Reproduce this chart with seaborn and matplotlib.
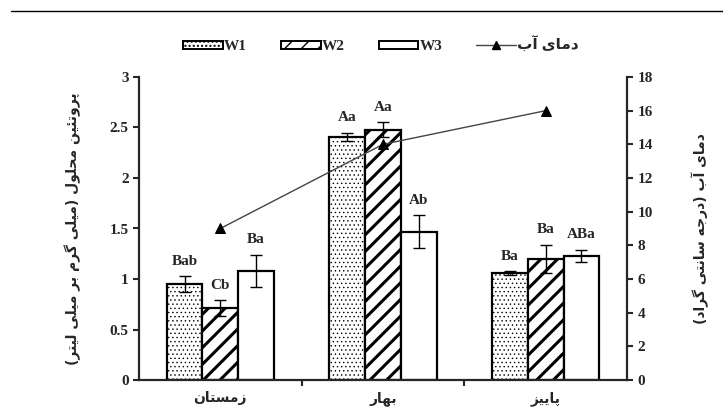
import numpy as np
import pandas as pd
import matplotlib
matplotlib.use("Agg")
import matplotlib.pyplot as plt
import seaborn as sns
from matplotlib.patches import Patch
from matplotlib.lines import Line2D

# ==========================================================
# Data
# ==========================================================
seasons = ["زمستان", "بهار", "پاییز"]
groups = ["W1", "W2", "W3"]
protein_w1 = [0.95, 2.41, 1.06]
protein_w2 = [0.71, 2.48, 1.20]
protein_w3 = [1.08, 1.47, 1.23]
err_w1 = [0.08, 0.04, 0.02]
err_w2 = [0.08, 0.07, 0.14]
err_w3 = [0.16, 0.16, 0.06]
letters_w1 = ["Bab", "Aa", "Ba"]
letters_w2 = ["Cb", "Aa", "Ba"]
letters_w3 = ["Ba", "Ab", "ABa"]
water_temp = [9, 14, 16]

ylabel_left = "پروتئین محلول (میلی گرم بر میلی لیتر)"
ylabel_right = "دمای آب (درجه سانتی گراد)"
temp_label = "دمای آب"

# ==========================================================
# Minimal Persian shaping (matplotlib has no bidi / joining)
# forms: isolated, final, initial, medial
# ==========================================================
FORMS = {
    "ا": ("\uFE8D", "\uFE8E", None, None),
    "آ": ("\uFE81", "\uFE82", None, None),
    "ب": ("\uFE8F", "\uFE90", "\uFE91", "\uFE92"),
    "پ": ("\uFB56", "\uFB57", "\uFB58", "\uFB59"),
    "ت": ("\uFE95", "\uFE96", "\uFE97", "\uFE98"),
    "ج": ("\uFE9D", "\uFE9E", "\uFE9F", "\uFEA0"),
    "ح": ("\uFEA1", "\uFEA2", "\uFEA3", "\uFEA4"),
    "د": ("\uFEA9", "\uFEAA", None, None),
    "ر": ("\uFEAD", "\uFEAE", None, None),
    "ز": ("\uFEAF", "\uFEB0", None, None),
    "س": ("\uFEB1", "\uFEB2", "\uFEB3", "\uFEB4"),
    "گ": ("\uFB92", "\uFB93", "\uFB94", "\uFB95"),
    "ل": ("\uFEDD", "\uFEDE", "\uFEDF", "\uFEE0"),
    "م": ("\uFEE1", "\uFEE2", "\uFEE3", "\uFEE4"),
    "ن": ("\uFEE5", "\uFEE6", "\uFEE7", "\uFEE8"),
    "ه": ("\uFEE9", "\uFEEA", "\uFEEB", "\uFEEC"),
    "و": ("\uFEED", "\uFEEE", None, None),
    "ی": ("\uFBFC", "\uFBFD", "\uFBFE", "\uFBFF"),
    "ئ": ("\uFE89", "\uFE8A", "\uFE8B", "\uFE8C"),
}


def fa(text):
    out = []
    for i, ch in enumerate(text):
        if ch not in FORMS:
            out.append(ch)
            continue
        iso, fin, ini, med = FORMS[ch]
        prev = text[i - 1] if i > 0 else ""
        nxt = text[i + 1] if i + 1 < len(text) else ""
        join_prev = prev in FORMS and FORMS[prev][2] is not None
        join_next = nxt in FORMS and ini is not None
        if join_prev and join_next:
            out.append(med)
        elif join_prev:
            out.append(fin)
        elif join_next:
            out.append(ini)
        else:
            out.append(iso)
    mirror = {"(": ")", ")": "("}
    return "".join(mirror.get(c, c) for c in reversed(out))


# ==========================================================
# Long-form table for seaborn
# ==========================================================
df = pd.DataFrame({
    "season": seasons * 3,
    "group": [g for g in groups for _ in seasons],
    "protein": protein_w1 + protein_w2 + protein_w3,
})
df["season_fa"] = df["season"].map(fa)
errs = [err_w1, err_w2, err_w3]
letters = [letters_w1, letters_w2, letters_w3]

sns.set_style("ticks")
plt.rcParams["font.family"] = ["Liberation Serif", "DejaVu Sans"]
plt.rcParams["font.weight"] = "bold"
plt.rcParams["axes.labelweight"] = "bold"

fig = plt.figure(figsize=(7.23, 4.11), dpi=100)
ax = fig.add_axes([139 / 723, 31 / 411, 488 / 723, 303 / 411])

sns.barplot(data=df, x="season_fa", y="protein", hue="group",
            palette=["white"] * 3, edgecolor="black", linewidth=1.6,
            width=0.66, gap=0, errorbar=None, legend=False, ax=ax)

hatches = ["....", "//", ""]
hatch_lw = [0.5, 2.2, 1.0]
bar_conts = list(ax.containers)
for i, cont in enumerate(bar_conts):
    for j, bar in enumerate(cont):
        bar.set_hatch(hatches[i])
        if hasattr(bar, "set_hatch_linewidth"):
            bar.set_hatch_linewidth(hatch_lw[i])
        xc = bar.get_x() + bar.get_width() / 2
        h = bar.get_height()
        ax.errorbar(xc, h, yerr=errs[i][j], color="black", lw=1,
                    capsize=4.5, capthick=1, zorder=5)
        ax.annotate(letters[i][j], (xc, h + errs[i][j]), xytext=(0, 6),
                    textcoords="offset points", ha="center", va="bottom",
                    fontsize=11, fontweight="bold", family="Liberation Serif")

ax.set_ylim(0, 3)
ax.set_yticks(np.arange(0, 3.01, 0.5))
ax.set_yticklabels(["0", "0.5", "1", "1.5", "2", "2.5", "3"])
ax.set_xlim(-0.5, 2.5)
ax.set_xlabel("")
ax.set_ylabel(fa(ylabel_left), fontsize=10, fontweight="bold",
              family="DejaVu Sans", rotation=90)
ax.yaxis.set_label_coords(-0.118, 0.5)
ax.set_xticks([0.5, 1.5], minor=True)
ax.tick_params(axis="x", which="major", length=0, pad=8, labelsize=10)
ax.tick_params(axis="x", which="minor", length=4, width=1.5, direction="out")
ax.tick_params(axis="y", length=4, width=1.5, labelsize=11, direction="out")
for lab in ax.get_xticklabels():
    lab.set_family("DejaVu Sans")
    lab.set_fontweight("bold")
ax.spines["top"].set_visible(False)
ax.spines["right"].set_visible(False)
for s in ["left", "bottom"]:
    ax.spines[s].set_linewidth(1.6)

# ==========================================================
# Water temperature on the secondary axis
# ==========================================================
ax2 = ax.twinx()
sns.pointplot(x=[fa(s) for s in seasons], y=water_temp, color="#444444",
              markers="^", linestyles="-", linewidth=1, markersize=7,
              errorbar=None, ax=ax2)
for ln in ax2.lines:
    ln.set_markerfacecolor("black")
    ln.set_markeredgecolor("black")
ax2.set_ylim(0, 18)
ax2.set_yticks(np.arange(0, 19, 2))
ax2.set_xlim(-0.5, 2.5)
ax2.set_ylabel(fa(ylabel_right), fontsize=10, fontweight="bold",
               family="DejaVu Sans", rotation=90)
ax2.yaxis.set_label_coords(1.132, 0.5)
ax2.tick_params(axis="y", length=4, width=1.5, labelsize=11, direction="out")
ax2.spines["top"].set_visible(False)
ax2.spines["left"].set_visible(False)
ax2.spines["bottom"].set_visible(False)
ax2.spines["right"].set_linewidth(1.6)

# ==========================================================
# Legend + top rule
# ==========================================================
handles = [Patch(facecolor="white", edgecolor="black", hatch=hatches[k], lw=1.4)
           for k in range(3)]
handles.append(Line2D([], [], color="#444444", lw=1, marker="^",
                      markerfacecolor="black", markeredgecolor="black",
                      markersize=6))
fig.legend(handles, groups + [fa(temp_label)], loc="center",
           bbox_to_anchor=(0.527, 0.89), ncol=4, frameon=False,
           handlelength=2.6, handleheight=0.45, handletextpad=0.1,
           columnspacing=2.2, prop={"size": 11, "weight": "bold"})
fig.add_artist(Line2D([0.015, 1.0], [0.974, 0.974],
                      transform=fig.transFigure, color="black", lw=1))

fig.savefig("out.png", dpi=100)
